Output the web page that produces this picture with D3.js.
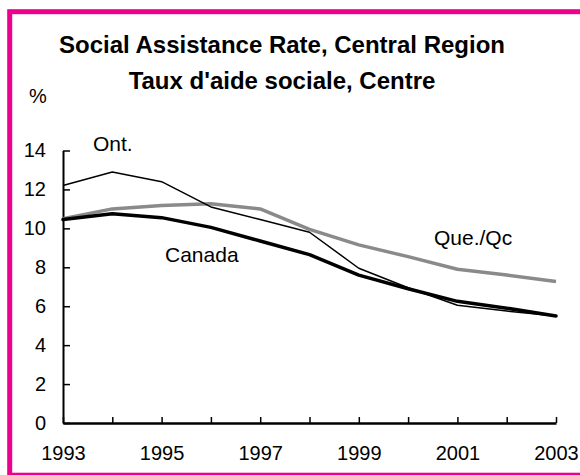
<!DOCTYPE html>
<html>
<head>
<meta charset="utf-8">
<script src="https://cdn.jsdelivr.net/npm/d3@7"></script>
<style>
  html, body { margin: 0; padding: 0; background: #fff; }
  svg { display: block; font-family: "Liberation Sans", Arial, Helvetica, sans-serif; }
</style>
</head>
<body>
<svg id="chart" width="580" height="475"></svg>
<script>
const years = [1993, 1994, 1995, 1996, 1997, 1998, 1999, 2000, 2001, 2002, 2003];
const canada  = [10.45, 10.75, 10.55, 10.05, 9.35, 8.65, 7.6, 6.9, 6.25, 5.9, 5.5];
const ontario = [12.2, 12.9, 12.4, 11.1, 10.45, 9.8, 7.95, 6.95, 6.05, 5.75, 5.5];
const quebec  = [10.5, 11.0, 11.17, 11.27, 11.0, 9.95, 9.15, 8.55, 7.9, 7.6, 7.27];
const yTicks = [0, 2, 4, 6, 8, 10, 12, 14];
const xTickLabels = [1993, 1995, 1997, 1999, 2001, 2003];
const titleLines = ["Social Assistance Rate, Central Region", "Taux d'aide sociale, Centre"];

const svg = d3.select("#chart");

// magenta frame
svg.append("rect")
  .attr("x", 9.7).attr("y", 11.7)
  .attr("width", 600).attr("height", 463.5)
  .attr("fill", "none")
  .attr("stroke", "#EC008C")
  .attr("stroke-width", 5);

const x = d3.scaleLinear().domain([1993, 2003]).range([63, 556]);
const y = d3.scaleLinear().domain([0, 14]).range([423, 150.5]);

// title
svg.selectAll("text.title").data(titleLines).join("text")
  .attr("class", "title")
  .attr("x", 282)
  .attr("y", (d, i) => 53 + i * 36)
  .attr("text-anchor", "middle")
  .attr("font-size", 24)
  .attr("font-weight", "bold")
  .attr("fill", "#000")
  .text(d => d);

svg.append("text")
  .attr("x", 29).attr("y", 103)
  .attr("font-size", 20)
  .text("%");

// axes
const yAxis = d3.axisLeft(y).tickValues(yTicks).tickSizeInner(-7).tickSizeOuter(0).tickPadding(17).tickFormat(d3.format("d"));
const gy = svg.append("g").attr("transform", "translate(63,0)").call(yAxis);
gy.selectAll("text").attr("font-size", 20).attr("fill", "#000").attr("font-family", null);
gy.selectAll("line").attr("stroke", "#000").attr("stroke-width", 1.5);
gy.select(".domain").attr("stroke", "#000").attr("stroke-width", 2);

const xAxis = d3.axisBottom(x).tickValues(years).tickSizeInner(-6).tickSizeOuter(0).tickPadding(23)
  .tickFormat(d => xTickLabels.includes(d) ? String(d) : "");
const gx = svg.append("g").attr("transform", "translate(0,423)").call(xAxis);
gx.selectAll("text").attr("font-size", 20).attr("fill", "#000").attr("font-family", null);
gx.selectAll("line").attr("stroke", "#000").attr("stroke-width", 1.5);
gx.select(".domain").attr("stroke", "#000").attr("stroke-width", 2.5);

// lines
const line = d3.line().x((d, i) => x(years[i])).y(d => y(d));
svg.append("path").datum(quebec).attr("d", line)
  .attr("fill", "none").attr("stroke", "#8a8a8a").attr("stroke-width", 3.5).attr("stroke-linejoin", "round");
svg.append("path").datum(canada).attr("d", line)
  .attr("fill", "none").attr("stroke", "#000").attr("stroke-width", 3.5).attr("stroke-linejoin", "round").attr("stroke-linecap", "round");
svg.append("path").datum(ontario).attr("d", line)
  .attr("fill", "none").attr("stroke", "#000").attr("stroke-width", 1.5).attr("stroke-linejoin", "round");

// series labels
const labels = [
  {t: "Ont.", x: 93, y: 151},
  {t: "Canada", x: 165, y: 262},
  {t: "Que./Qc", x: 434, y: 245}
];
svg.selectAll("text.lab").data(labels).join("text")
  .attr("class", "lab")
  .attr("x", d => d.x).attr("y", d => d.y)
  .attr("font-size", 21)
  .attr("fill", "#000")
  .text(d => d.t);
</script>
</body>
</html>
